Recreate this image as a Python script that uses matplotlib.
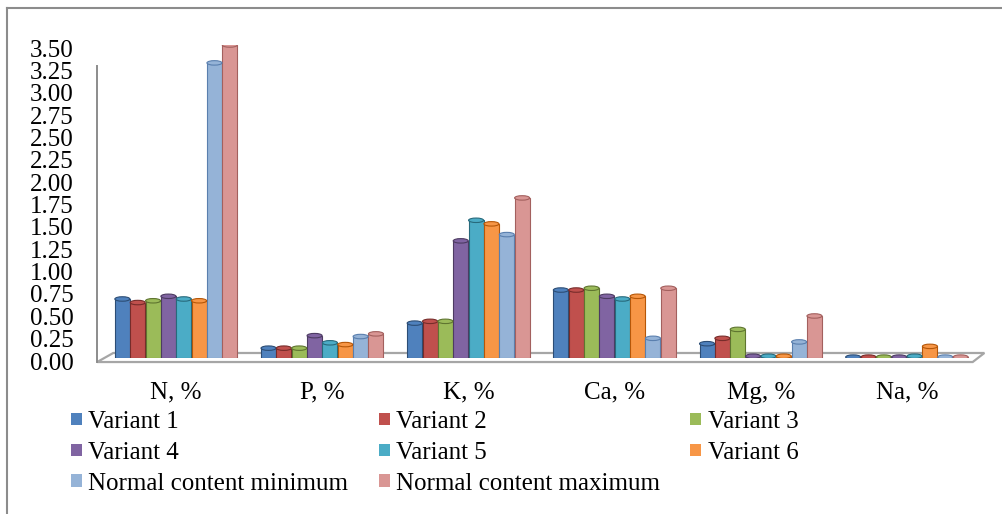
import numpy as np
import matplotlib
matplotlib.use('Agg')
import matplotlib.pyplot as plt
from matplotlib.patches import Polygon, Ellipse
from matplotlib.lines import Line2D
import matplotlib.transforms as mtransforms

# data
categories = ['N, %', 'P, %', 'K, %', 'Ca, %', 'Mg, %', 'Na, %']
series_names = ['Variant 1', 'Variant 2', 'Variant 3', 'Variant 4', 'Variant 5',
                'Variant 6', 'Normal content minimum', 'Normal content maximum']
variant1 = [0.66, 0.11, 0.39, 0.76, 0.16, 0.01]
variant2 = [0.62, 0.11, 0.41, 0.76, 0.22, 0.01]
variant3 = [0.64, 0.11, 0.41, 0.78, 0.32, 0.01]
variant4 = [0.69, 0.25, 1.31, 0.69, 0.02, 0.01]
variant5 = [0.66, 0.17, 1.54, 0.66, 0.02, 0.02]
variant6 = [0.64, 0.15, 1.50, 0.69, 0.02, 0.13]
norm_min = [3.30, 0.24, 1.38, 0.22, 0.18, 0.01]
norm_max = [3.50, 0.27, 1.79, 0.78, 0.47, 0.01]
yticks = np.arange(0, 3.51, 0.25)

colors = ['#4F81BD', '#C0504D', '#9BBB59', '#8064A2', '#4BACC6', '#F79646',
          '#95B3D7', '#D99694']
edges = ['#2C4D75', '#772C2A', '#5F7530', '#4D3B62', '#276A7C', '#B65708',
         '#5A7FAE', '#A3605E']

plt.rcParams['font.family'] = ['Liberation Serif', 'DejaVu Serif']
FS = 18

fig = plt.figure(figsize=(10.03, 5.14), dpi=100)
# axes: x=-0.5 -> 103px, x=5.5 -> 980px ; y=0 -> 358px, y=3.5 -> 45px
ax = fig.add_axes([103 / 1003, (514 - 358) / 514, 877 / 1003, 313 / 514])

data = [variant1, variant2, variant3, variant4, variant5, variant6, norm_min, norm_max]
x = np.arange(len(categories))
n = len(data)
bw = 0.105
for i, vals in enumerate(data):
    pos = x + (i - (n - 1) / 2) * bw
    ax.bar(pos, vals, width=bw * 0.98, color=colors[i], edgecolor=edges[i],
           linewidth=0.8, zorder=3, label=series_names[i])
    # a flat cap so the columns look a bit like the cylinders in excel
    for px, v in zip(pos, vals):
        ax.add_patch(Ellipse((px, v), bw * 0.98, 0.05, facecolor=colors[i],
                             edgecolor=edges[i], linewidth=0.8, zorder=4))

# floor of the 3d chart
floor = Polygon([(-0.54, -0.045), (5.45, -0.045), (5.53, 0.056), (-0.43, 0.056)],
                closed=True, facecolor='white', edgecolor='#A6A6A6', linewidth=1.6,
                zorder=1, clip_on=False)
ax.add_patch(floor)
ax.plot([-0.54, -0.54], [-0.045, 3.27], color='#8C8C8C', linewidth=1.4,
        clip_on=False, zorder=1)

ax.set_xlim(-0.5, 5.5)
ax.set_ylim(0, 3.5)
ax.set_yticks(yticks)
ax.set_yticklabels(['%.2f' % t for t in yticks], fontsize=FS)
ax.set_xticks(x)
ax.set_xticklabels(categories, fontsize=FS)
ax.tick_params(axis='y', length=0, pad=21)
ax.tick_params(axis='x', length=0, pad=17)
for sp in ax.spines.values():
    sp.set_visible(False)
off = mtransforms.ScaledTranslation(0, -3 / 100, fig.dpi_scale_trans)
for lab in ax.get_yticklabels():
    lab.set_transform(lab.get_transform() + off)

# legend rows: V1 V2 V3 / V4 V5 V6 / min max
handles, labels = ax.get_legend_handles_labels()
order = [0, 3, 6, 1, 4, 7, 2, 5]
leg = fig.legend([handles[k] for k in order], [labels[k] for k in order],
                 loc='upper left', bbox_to_anchor=(71 / 1003, 1 - 411 / 514),
                 ncol=3, frameon=False, fontsize=FS, handlelength=0.45,
                 handleheight=0.4, handletextpad=0.25, columnspacing=1.2,
                 labelspacing=0.35, borderaxespad=0, borderpad=0)
for h in leg.legend_handles:
    h.set_edgecolor('none')

# outer frame (left and top only visible in the reference)
fig.add_artist(Line2D([7 / 1003, 7 / 1003], [0, 1 - 8 / 514], color='#8C8C8C', linewidth=1.5))
fig.add_artist(Line2D([7 / 1003, 1], [1 - 8 / 514, 1 - 8 / 514], color='#8C8C8C', linewidth=1.5))

fig.savefig('out.png', dpi=100)
